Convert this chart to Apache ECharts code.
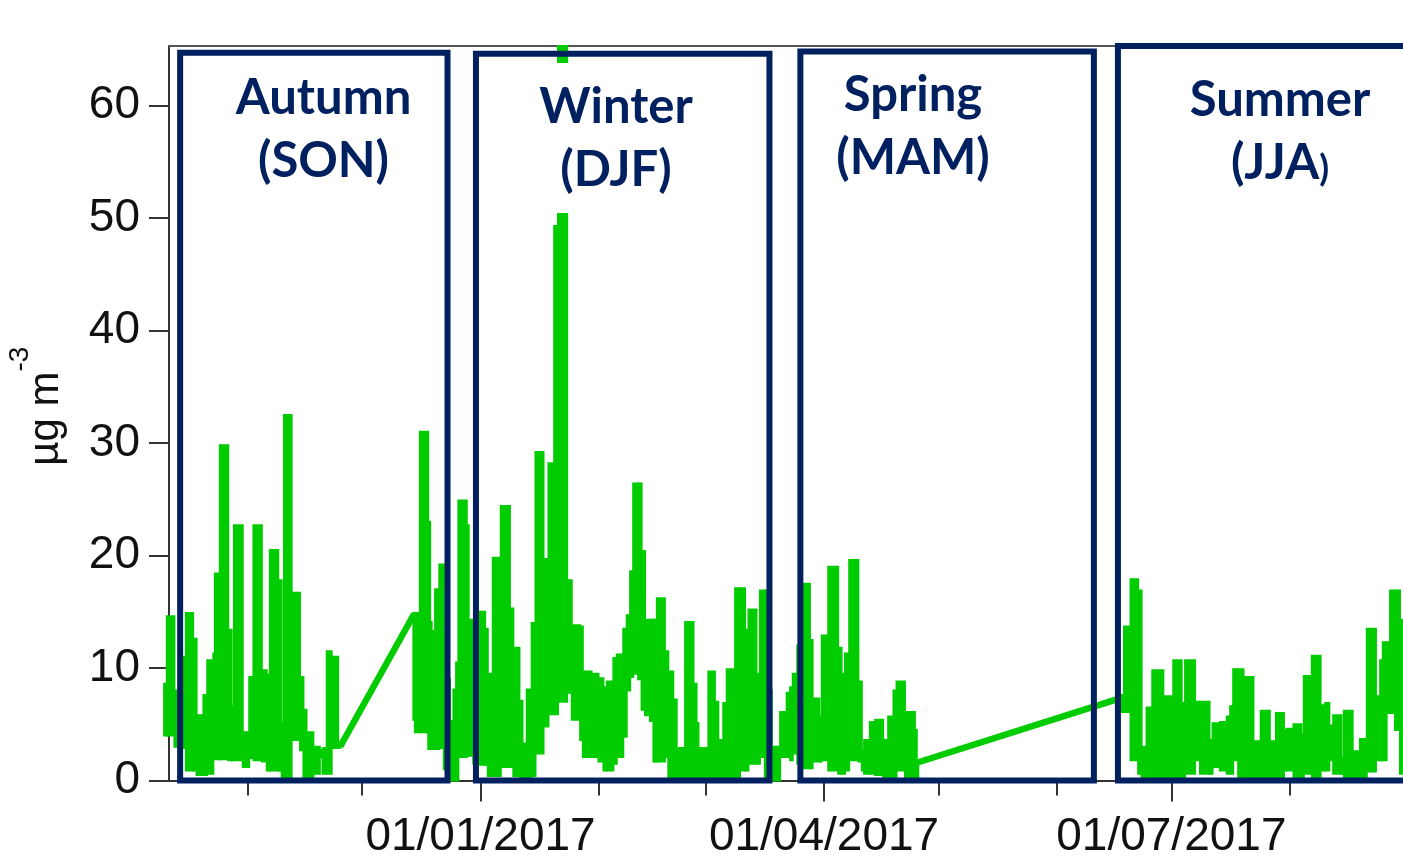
<!DOCTYPE html>
<html>
<head>
<meta charset="utf-8">
<script src="https://cdn.jsdelivr.net/npm/echarts@6/dist/echarts.min.js"></script>
<style>
  html, body { margin: 0; padding: 0; background: #fff; }
  #chart { width: 1403px; height: 859px; }
</style>
</head>
<body>
<div id="chart"></div>
<script>
const DAY = 86400000;
const BASE = Date.UTC(2016, 10, 1); // day 0 = 01/11/2016

// hourly trace, read as its envelope per step: [day, high, low] (µg m-3)
const autumnTrace = [
  [-21.9, 8.6, 4.0], [-21.2, 14.6, 4.0], [-19.2, 8.0, 3.0], [-16.9, 11.0, 2.9],
  [-16.2, 14.9, 0.9], [-14.3, 12.6, 0.9], [-13.4, 5.8, 0.5], [-11.6, 7.6, 0.5],
  [-10.6, 10.7, 0.6], [-9.0, 11.3, 2.7], [-8.6, 18.4, 1.9], [-7.3, 29.8, 1.9],
  [-5.1, 13.4, 1.8], [-4.2, 6.6, 1.8], [-3.6, 22.7, 1.8], [-1.3, 4.3, 1.2],
  [0.4, 9.2, 2.0], [1.5, 22.7, 1.8], [3.7, 9.8, 1.7], [5.0, 9.4, 0.9],
  [5.8, 20.5, 0.9], [8.0, 17.8, 0.9], [8.9, 5.1, 0], [9.5, 32.5, 0],
  [11.5, 16.7, 3.6], [13.7, 9.2, 2.7], [14.6, 6.3, 0], [15.4, 4.3, 0],
  [17.2, 3.0, 0.6], [18.9, 2.7, 2.1], [19.6, 2.9, 0.6], [20.7, 11.5, 0.6],
  [22.0, 11.0, 2.9], [23.7, 3.4, 2.9], [24.2, 3.4, 2.9]
];
const winterSpringTrace = [
  [43.4, 14.9, 5.4], [43.8, 14.9, 4.3], [45.1, 31.0, 4.3], [47.3, 23.0, 2.8],
  [47.8, 14.1, 2.8], [48.2, 13.3, 2.8], [49.1, 17.0, 2.8], [50.2, 19.2, 2.9],
  [51.4, 9.0, 1.0], [53.0, 5.3, 0], [53.9, 8.1, 0], [54.6, 10.5, 0],
  [55.2, 24.9, 2.1], [57.4, 22.7, 2.2], [57.9, 14.3, 2.2], [59.1, 14.0, 1.5],
  [60.7, 15.0, 1.4], [62.2, 13.5, 1.4], [62.9, 9.5, 0.4], [64.2, 19.8, 0.4],
  [66.3, 24.4, 1.2], [68.7, 15.3, 1.2], [69.6, 11.8, 0.4], [71.2, 7.1, 0.1],
  [72.0, 3.3, 0], [73.1, 8.1, 0.1], [74.4, 14.0, 0.4], [75.4, 29.2, 2.4],
  [77.5, 19.7, 4.8], [78.8, 28.2, 5.9], [80.3, 49.3, 5.9], [81.3, 72.0, 7.0],
  [83.7, 17.8, 7.8], [84.9, 13.8, 5.4], [87.1, 13.7, 3.6], [87.8, 9.7, 2.1],
  [90.1, 9.5, 2.1], [91.9, 9.1, 1.7], [93.2, 8.3, 0.9], [94.1, 8.8, 0.9],
  [95.8, 10.9, 1.5], [96.7, 11.2, 2.1], [98.4, 13.5, 3.9], [99.3, 14.7, 8.0],
  [100.2, 18.6, 9.2], [101.0, 26.4, 9.5], [102.3, 26.4, 9.0], [103.2, 20.4, 6.3],
  [104.1, 14.3, 5.8], [105.4, 14.3, 5.3], [106.3, 14.3, 1.7], [106.7, 13.4, 1.7],
  [107.2, 16.2, 1.7], [109.3, 11.5, 2.1], [110.2, 9.7, 0.3], [111.5, 7.2, 0.3],
  [112.4, 2.9, 0], [114.6, 14.1, 0.3], [116.8, 8.6, 0], [117.6, 5.1, 0],
  [118.1, 2.9, 0], [120.7, 9.7, 0], [122.4, 7.0, 0], [123.3, 3.6, 0.3],
  [124.6, 6.9, 0.3], [125.5, 9.9, 0], [127.7, 17.1, 0], [129.0, 17.1, 0.9],
  [130.3, 13.4, 0.9], [131.2, 15.2, 1.5], [133.3, 9.5, 1.5], [134.2, 16.9, 2.1],
  [135.5, 16.9, 0], [136.0, 8.0, 0], [137.3, 3.0, 0], [139.5, 6.1, 2.1],
  [141.2, 7.8, 2.1], [142.1, 8.3, 1.8], [142.8, 9.5, 2.4], [144.0, 12.0, 1.5],
  [145.4, 17.5, 1.1], [147.3, 12.5, 1.1], [148.0, 7.3, 1.7], [149.8, 5.7, 1.7],
  [150.4, 12.9, 1.8], [152.1, 19.0, 0.9], [154.7, 11.8, 0.6], [155.6, 9.5, 0.6],
  [156.5, 11.3, 0.9], [157.6, 19.6, 1.8], [160.0, 8.8, 1.7], [160.9, 2.7, 0.9],
  [161.5, 3.6, 0.6], [163.0, 5.2, 0.6], [164.4, 5.4, 0.5], [166.5, 3.6, 0.3],
  [167.8, 5.7, 0.3], [169.2, 8.0, 0.3], [170.0, 8.8, 0.9], [172.2, 6.1, 0.2],
  [174.8, 4.5, 0.1], [175.3, 1.8, 0.1], [175.7, 1.8, 0.1]
];
const summerTrace = [
  [228.5, 7.6, 6.1], [229.6, 13.7, 6.1], [231.3, 17.9, 1.8], [233.3, 16.9, 0.6],
  [234.2, 3.0, 0], [235.5, 6.5, 0.3], [237.0, 9.8, 0.3], [239.9, 7.5, 0.3],
  [242.5, 10.7, 0], [244.7, 6.9, 0.3], [245.6, 10.7, 0.6], [248.2, 7.0, 1.8],
  [249.5, 7.0, 0.6], [252.0, 3.6, 0.6], [252.8, 5.1, 1.2], [254.7, 5.2, 0.9],
  [256.5, 5.7, 0.6], [257.4, 6.6, 0.6], [258.2, 9.9, 1.8], [259.5, 9.9, 0.3],
  [260.9, 9.2, 0.2], [263.5, 3.5, 0], [265.4, 6.2, 0.2], [267.8, 3.5, 0],
  [269.4, 6.0, 0.3], [271.5, 4.5, 0.9], [272.2, 4.6, 0.9], [274.0, 5.0, 0.2],
  [276.1, 4.1, 0], [276.7, 9.3, 0.6], [278.8, 11.1, 0.2], [281.1, 6.7, 0.9],
  [282.3, 6.9, 0.9], [283.4, 4.9, 1.8], [284.4, 5.8, 0.6], [286.6, 2.0, 0.6],
  [287.2, 6.2, 0.2], [289.5, 2.6, 0], [291.4, 3.7, 0], [293.2, 13.5, 0.8],
  [295.6, 7.5, 1.8], [296.7, 10.7, 1.8], [297.4, 12.3, 1.8], [298.4, 12.3, 6.0],
  [299.3, 16.9, 6.0], [300.6, 16.9, 4.5], [301.9, 14.3, 0.6], [304.0, 14.3, 0.6]
];
// straight joins drawn across the missing data
const gapLinks = [
  [[24.2, 3.0], [43.6, 14.8]],
  [[175.5, 1.6], [228.5, 7.3]]
];

const seasonNames = ["Autumn", "Winter", "Spring", "Summer"];
const seasonCodes = ["(SON)", "(DJF)", "(MAM)", "(JJA"];
const seasonStart = [-17.7, 59.8, 144.8, 228.0];
const seasonEnd = [52.35, 136.7, 221.7, 320];
const seasonTop = [64.7, 64.6, 64.8, 65.4];

const yTicks = [0, 10, 20, 30, 40, 50, 60];
const tickDates = ["2016-11-01", "2016-12-01", "2017-01-01", "2017-02-01", "2017-03-01",
  "2017-04-01", "2017-05-01", "2017-06-01", "2017-07-01", "2017-08-01", "2017-09-01"];
const labelDates = ["2017-01-01", "2017-04-01", "2017-07-01"];

const GREEN = "#00cc00";
const NAVY = "#002060";
const AXIS = "#333";
const NUM_FONT = "Liberation Sans, Arial, sans-serif";
const X_MIN = -20.62, X_MAX = 307.93;
// label boxes (px): centre x, top of white box
const labelX = [323.5, 616, 913, 1280];
const labelY = [54, 63, 51, 56];

const toTime = (d) => BASE + d * DAY;
const monthTicks = tickDates.map((s) => Date.parse(s));
const quarterTicks = labelDates.map((s) => Date.parse(s));
const pad = (n) => (n < 10 ? "0" + n : "" + n);

// one continuous piece of the trace: each step is a filled block from low to high
const band = (trace, name, clip) => ({
  type: "custom", name: name, z: 2, silent: true, animation: false,
  encode: { x: [0, 1], y: [2, 3] },
  data: trace.slice(0, -1).map((p, i) => [toTime(p[0]), toTime(trace[i + 1][0]), p[1], p[2]]),
  renderItem: (params, api) => {
    const a = api.coord([api.value(0), api.value(2)]);
    const b = api.coord([api.value(1), api.value(3)]);
    let shape = { x: a[0], y: a[1], width: b[0] - a[0], height: b[1] - a[1] };
    if (clip) {
      const cs = params.coordSys;
      shape = echarts.graphic.clipRectByRect(shape, { x: cs.x, y: cs.y, width: cs.width, height: cs.height });
      if (!shape) return null;
    }
    return { type: "rect", shape: shape, style: { fill: GREEN, stroke: GREEN, lineWidth: 2 } };
  },
});

const links = gapLinks.map((g, i) => ({
  type: "line", name: "gap" + i, symbol: "none", z: 2, animation: false, silent: true,
  lineStyle: { color: GREEN, width: 6.5 },
  data: g.map((p) => [toTime(p[0]), p[1]]),
}));
// season frames sit on the first join
links[0].markArea = {
  z: 10, silent: true,
  label: { show: false },
  itemStyle: { color: "rgba(0,0,0,0)", borderColor: NAVY, borderWidth: 6 },
  data: seasonNames.map((n, i) => [
    { xAxis: toTime(seasonStart[i]), yAxis: -0.2 },
    { xAxis: toTime(seasonEnd[i]), yAxis: seasonTop[i] },
  ]),
};

// timestamps on a plain value axis so ticks can sit on month starts
const xBase = {
  type: "value", gridIndex: 0, min: toTime(X_MIN), max: toTime(X_MAX),
  splitLine: { show: false },
};

const chart = echarts.init(document.getElementById("chart"), null, { renderer: "canvas" });
chart.setOption({
  animation: false,
  backgroundColor: "#fff",
  // plot runs past the right edge of the picture, as in the source figure
  grid: { left: 169, width: 1254, top: 46, bottom: 78.5, outerBoundsMode: "none", containLabel: false },
  xAxis: [
    {
      ...xBase, position: "bottom",
      axisLine: { lineStyle: { color: AXIS, width: 2 } },
      axisTick: { customValues: monthTicks, length: 15, lineStyle: { color: AXIS, width: 2 } },
      axisLabel: { show: false },
    },
    {
      ...xBase, position: "bottom",
      axisLine: { show: false },
      axisTick: { customValues: quarterTicks, length: 21, lineStyle: { color: AXIS, width: 2 } },
      axisLabel: {
        customValues: quarterTicks, margin: 34, fontSize: 46, color: "#111", fontFamily: NUM_FONT,
        formatter: (v) => {
          const d = new Date(v);
          return pad(d.getUTCDate()) + "/" + pad(d.getUTCMonth() + 1) + "/" + d.getUTCFullYear();
        },
      },
    },
    {
      ...xBase, position: "top",
      axisLine: { lineStyle: { color: "#555", width: 2 } },
      axisTick: { show: false },
      axisLabel: { show: false },
    },
  ],
  yAxis: {
    type: "value", min: 0, max: 65.3,
    splitLine: { show: false },
    axisLine: { show: true, lineStyle: { color: AXIS, width: 2 } },
    axisTick: { show: true, customValues: yTicks, length: 20, lineStyle: { color: AXIS, width: 2 } },
    axisLabel: { customValues: yTicks, margin: 29, fontSize: 46, color: "#111", fontFamily: NUM_FONT },
    name: "{a|µg m}{s|-3}",
    nameLocation: "middle",
    nameRotate: 90,
    nameGap: 83,
    nameTextStyle: {
      padding: [0, 0, 0, 14],
      rich: {
        a: { fontSize: 42, fontFamily: NUM_FONT, color: "#111", lineHeight: 80 },
        s: { fontSize: 28, fontFamily: NUM_FONT, color: "#111", lineHeight: 30, verticalAlign: "top" },
      },
    },
  },
  series: [
    band(autumnTrace, "autumn", false),
    band(winterSpringTrace, "winterSpring", true),
    band(summerTrace, "summer", true),
    ...links,
  ],
  graphic: seasonNames.map((n, i) => ({
    type: "text", x: labelX[i], y: labelY[i], z: 5, silent: true,
    style: {
      text: "{t|" + n + "}\n{t|" + seasonCodes[i] + "}" + (i === 3 ? "{p|)}" : ""),
      fill: NAVY,
      align: "center", verticalAlign: "top",
      textAlign: "center", textVerticalAlign: "top",
      backgroundColor: "#fff",
      padding: [13, 8, 11, 8],
      rich: {
        t: { fontSize: 49, fontWeight: "bold", fontFamily: "Lato", lineHeight: 63, fill: NAVY },
        p: { fontSize: 36, fontWeight: "bold", fontFamily: "Lato", lineHeight: 63, fill: NAVY, padding: [12, 0, 0, 0] },
      },
    },
  })),
});
window.addEventListener("resize", () => chart.resize());
</script>
</body>
</html>
